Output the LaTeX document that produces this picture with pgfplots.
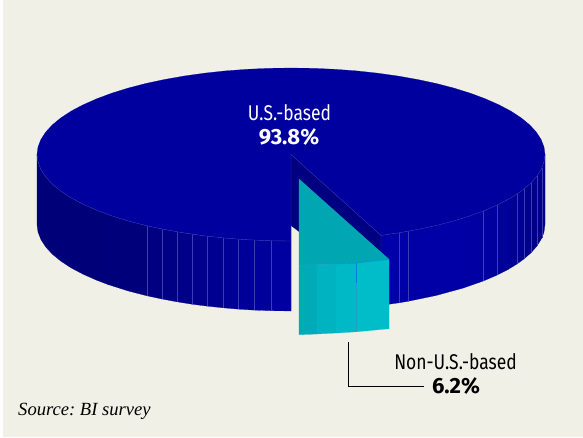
\documentclass[border=0pt]{standalone}
\usepackage{pgfplots}
\pgfplotsset{compat=1.18}
\usepackage{fontspec}
\setmainfont{Fira Sans}[FakeStretch=0.82]
\newfontfamily\numfont{Fira Sans}
\newfontfamily\srcfont{Liberation Serif}
\frenchspacing
\definecolor{paper}{HTML}{F1F0E6}
\definecolor{pietop}{HTML}{00009F}
\definecolor{wall}{HTML}{000080}
\definecolor{facet}{HTML}{3C3CB4}
\definecolor{slicetop}{HTML}{00A7B3}
% side shades of the large slice, left to right
\definecolor{La}{HTML}{000078}
\definecolor{Lb}{HTML}{00007B}
\definecolor{Lc}{HTML}{000080}
\definecolor{Ld}{HTML}{000084}
\definecolor{Le}{HTML}{000088}
\definecolor{Lf}{HTML}{00008C}
\definecolor{Lg}{HTML}{000090}
\definecolor{Lh}{HTML}{000094}
\definecolor{Li}{HTML}{000098}
\definecolor{Lj}{HTML}{00009C}
\definecolor{Lk}{HTML}{0000A0}
\definecolor{Ra}{HTML}{0000A8}
\definecolor{Rb}{HTML}{0000A8}
\definecolor{Rc}{HTML}{0000A6}
\definecolor{Rd}{HTML}{0000A3}
\definecolor{Re}{HTML}{00009F}
\definecolor{Rf}{HTML}{00009B}
\definecolor{Rg}{HTML}{000097}
\definecolor{Rh}{HTML}{000093}
\definecolor{Ri}{HTML}{00008F}
\definecolor{Rj}{HTML}{00008B}
% side shades of the pulled-out slice
\definecolor{Ca}{HTML}{00ABB8}
\definecolor{Cb}{HTML}{00B3C0}
\definecolor{Cc}{HTML}{00B9C6}
\definecolor{Cd}{HTML}{00BDCA}
\pgfplotsset{
  piece/.style={fill=#1,draw=#1,line width=0.2pt,forget plot,mark=none},
  rule/.style={draw=facet,line width=0.35pt,forget plot,mark=none},
}
\begin{document}
\begin{tikzpicture}
\begin{axis}[
  scale only axis,width=583pt,height=437pt,
  xmin=0,xmax=583,ymin=0,ymax=437,y dir=reverse,
  axis lines=none,clip=true]
% sheet
\addplot[fill=white,draw=none,forget plot] coordinates {(0,0)(583,0)(583,437)(0,437)} --cycle;
\addplot[fill=paper,draw=none,forget plot] coordinates {(3,0)(583,0)(583,437)(3,437)} --cycle;

% side of the large slice, left of the cut
\addplot[piece=La] coordinates {(37,154.5)(38,162)(40.9,169.5)(45.7,176.9)(52.3,184.1)(60.8,191.1)(71,197.8)(82.9,204.1)(96.4,210.1)(108,214.5)
  (108,284.5)(96.4,280.1)(82.9,274.1)(71,267.8)(60.8,261.1)(52.3,254.1)(45.7,246.9)(40.9,239.5)(38,232)(37,224.5)} --cycle;
\addplot[piece=Lb] coordinates {(108,214.5)(127.7,220.8)(147,225.8)(147,295.8)(127.7,290.8)(108,284.5)} --cycle;
\addplot[piece=Lc] coordinates {(147,225.8)(162,229)(162,299)(147,295.8)} --cycle;
\addplot[piece=Ld] coordinates {(162,229)(177,231.8)(177,301.8)(162,299)} --cycle;
\addplot[piece=Le] coordinates {(177,231.8)(192,234.2)(192,304.2)(177,301.8)} --cycle;
\addplot[piece=Lf] coordinates {(192,234.2)(207,236.1)(207,306.1)(192,304.2)} --cycle;
\addplot[piece=Lg] coordinates {(207,236.1)(223,237.8)(223,307.8)(207,306.1)} --cycle;
\addplot[piece=Lh] coordinates {(223,237.8)(238,239.1)(238,309.1)(223,307.8)} --cycle;
\addplot[piece=Li] coordinates {(238,239.1)(254,240.1)(254,310.1)(238,309.1)} --cycle;
\addplot[piece=Lj] coordinates {(254,240.1)(271,240.7)(271,310.7)(254,310.1)} --cycle;
\addplot[piece=Lk] coordinates {(271,240.7)(291,241)(291,311)(271,310.7)} --cycle;

% side of the large slice, right of the cut
\addplot[piece=Ra] coordinates {(381,235.4)(399,232.8)(399,302.8)(381,305.4)} --cycle;
\addplot[piece=Rb] coordinates {(399,232.8)(408,231.3)(408,301.3)(399,302.8)} --cycle;
\addplot[piece=Rc] coordinates {(408,231.3)(436,225.5)(463,218.1)(463,288.1)(436,295.5)(408,301.3)} --cycle;
\addplot[piece=Rd] coordinates {(463,218.1)(483,211.1)(483,281.1)(463,288.1)} --cycle;
\addplot[piece=Re] coordinates {(483,211.1)(497,205.1)(497,275.1)(483,281.1)} --cycle;
\addplot[piece=Rf] coordinates {(497,205.1)(508,199.5)(508,269.5)(497,275.1)} --cycle;
\addplot[piece=Rg] coordinates {(508,199.5)(517,194)(517,264)(508,269.5)} --cycle;
\addplot[piece=Rh] coordinates {(517,194)(524,188.9)(524,258.9)(517,264)} --cycle;
\addplot[piece=Ri] coordinates {(524,188.9)(531,182.8)(531,252.8)(524,258.9)} --cycle;
\addplot[piece=Rj] coordinates {(531,182.8)(537,176)(542,167.8)(544,162)(545,154.5)(545,224.5)(544,232)(542,237.8)(537,246)(531,252.8)} --cycle;

% facet seams
\addplot[rule] coordinates {(147,225.8)(147,295.8)};
\addplot[rule] coordinates {(162,229)(162,299)};
\addplot[rule] coordinates {(177,231.8)(177,301.8)};
\addplot[rule] coordinates {(192,234.2)(192,304.2)};
\addplot[rule] coordinates {(207,236.1)(207,306.1)};
\addplot[rule] coordinates {(223,237.8)(223,307.8)};
\addplot[rule] coordinates {(238,239.1)(238,309.1)};
\addplot[rule] coordinates {(254,240.1)(254,310.1)};
\addplot[rule] coordinates {(271,240.7)(271,310.7)};
\addplot[rule] coordinates {(399,232.8)(399,302.8)};
\addplot[rule] coordinates {(408,231.3)(408,301.3)};
\addplot[rule] coordinates {(483,211.1)(483,281.1)};
\addplot[rule] coordinates {(497,205.1)(497,275.1)};
\addplot[rule] coordinates {(517,194)(517,264)};
\addplot[rule] coordinates {(524,188.9)(524,258.9)};
\addplot[rule] coordinates {(531,182.8)(531,252.8)};
\addplot[rule] coordinates {(537,176)(537,246)};
\addplot[rule] coordinates {(542,167.8)(542,237.8)};

% top face of the large slice, with the wedge cut out
\addplot[piece=pietop] coordinates {(291,154.5)(381,235.4)(398.3,232.9)(418,229.4)(436.7,225.4)(454.3,220.8)(470.6,215.7)(485.6,210.1)(499.1,204.1)(511,197.8)(521.2,191.1)(529.7,184.1)(536.3,176.9)(541.1,169.5)(544,162)(545,154.5)
  (544,147)(541.1,139.5)(536.3,132.1)(529.7,124.9)(521.2,117.9)(511,111.2)(499.1,104.9)(485.6,98.9)(470.6,93.3)(454.3,88.2)(436.7,83.6)(418,79.6)(398.3,76.1)(377.9,73.2)(356.7,70.9)(335.1,69.3)(313.1,68.3)(291,68)
  (268.9,68.3)(246.9,69.3)(225.3,70.9)(204.1,73.2)(183.7,76.1)(164,79.6)(145.3,83.6)(127.7,88.2)(111.4,93.3)(96.4,98.9)(82.9,104.9)(71,111.2)(60.8,117.9)(52.3,124.9)(45.7,132.1)(40.9,139.5)(38,147)(37,154.5)
  (38,162)(40.9,169.5)(45.7,176.9)(52.3,184.1)(60.8,191.1)(71,197.8)(82.9,204.1)(96.4,210.1)(111.4,215.7)(127.7,220.8)(145.3,225.4)(164,229.4)(183.7,232.9)(204.1,235.8)(225.3,238.1)(246.9,239.7)(268.9,240.7)(291,241)} --cycle;

% pale rim along the front of the top face
\addplot[rule] coordinates {(37,154.5)(38,162)(40.9,169.5)(45.7,176.9)(52.3,184.1)(60.8,191.1)(71,197.8)(82.9,204.1)(96.4,210.1)(111.4,215.7)(127.7,220.8)(145.3,225.4)(164,229.4)(183.7,232.9)(204.1,235.8)(225.3,238.1)(246.9,239.7)(268.9,240.7)(291,241)};
\addplot[rule] coordinates {(381,235.4)(398.3,232.9)(418,229.4)(436.7,225.4)(454.3,220.8)(470.6,215.7)(485.6,210.1)(499.1,204.1)(511,197.8)(521.2,191.1)(529.7,184.1)(536.3,176.9)(541.1,169.5)(544,162)(545,154.5)};

% inner wall exposed by the cut
\addplot[piece=wall] coordinates {(291,154.5)(381,235.4)(381,254)(299,179)(299,231.5)(291,225.5)} --cycle;
\addplot[rule] coordinates {(291,311)(291,154.5)(381,235.4)(381,254)};

% pulled-out slice: top face
\addplot[piece=slicetop] coordinates {(299,179)(389,259.3)(356,263)(336,264)(317,264.8)(299,265.3)} --cycle;
% pulled-out slice: side facets
\addplot[piece=Ca] coordinates {(299,265.3)(317,264.8)(317,334)(299,334.7)} --cycle;
\addplot[piece=Cb] coordinates {(317,264.8)(336,264)(336,333)(317,334)} --cycle;
\addplot[piece=Cc] coordinates {(336,264)(356,263)(356,331.8)(336,333)} --cycle;
\addplot[piece=Cd] coordinates {(356,263)(389,259.3)(389,328.7)(356,331.8)} --cycle;
\addplot[draw=cyan!30!Cd,line width=0.4pt,forget plot] coordinates {(299,265.3)(317,264.8)(336,264)};
\addplot[draw=blue!30!Cd,line width=0.4pt,forget plot] coordinates {(336,264)(356,263)(389,259.3)};
\addplot[draw=blue!35!Cd,line width=0.5pt,forget plot] coordinates {(356,263)(356,283)};
\addplot[draw=cyan!30!Cd,line width=0.5pt,forget plot] coordinates {(356,283)(356,331.8)};

% leader from the slice to its label
\addplot[draw=black,line width=0.8pt,forget plot] coordinates {(348,342)(348,386)(424,386)};

\node[white,font=\fontsize{21.3}{24}\selectfont,anchor=center] at (axis cs:289.5,113) {U.S.-based};
\node[white,font=\numfont\fontsize{22}{24}\selectfont\bfseries,anchor=center] at (axis cs:289,137) {93.8\%};
\node[black,font=\fontsize{21.3}{24}\selectfont,anchor=center] at (axis cs:455.5,362) {Non-U.S.-based};
\node[black,font=\numfont\fontsize{22}{24}\selectfont\bfseries,anchor=center] at (axis cs:456,386) {6.2\%};
\node[black,font=\srcfont\itshape\fontsize{18.6}{22}\selectfont,anchor=west,inner sep=0pt] at (axis cs:18,411) {Source: BI survey};
\end{axis}
\end{tikzpicture}
\end{document}
